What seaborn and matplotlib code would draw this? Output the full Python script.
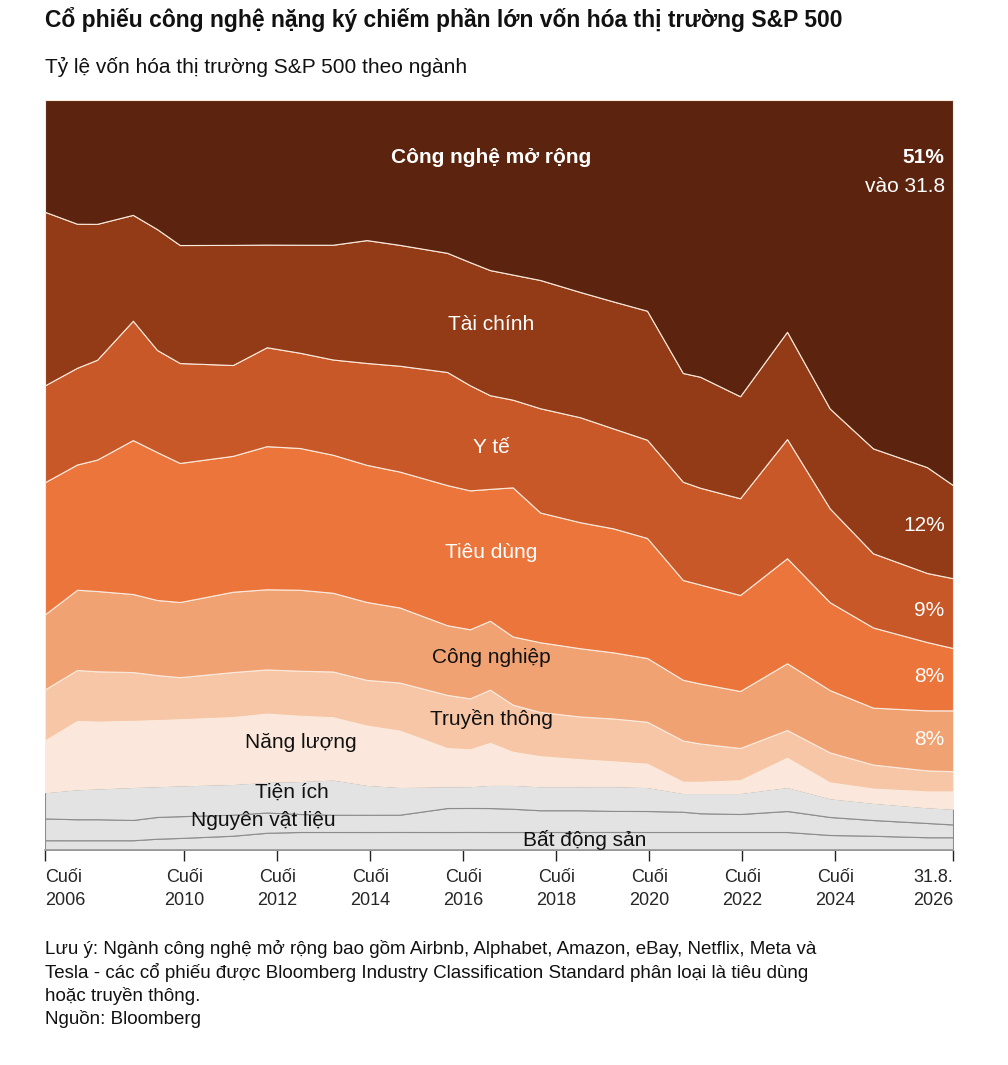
import numpy as np
import seaborn as sns
import matplotlib.pyplot as plt

# thoi gian (nam thap phan) va ty trong tung nganh (%) doc tu hinh
nam = [2007.0, 2007.69, 2008.12, 2008.89, 2009.41, 2009.90, 2011.04, 2011.77, 2012.48, 2013.19,
       2013.92, 2014.63, 2015.65, 2016.14, 2016.57, 2017.06, 2017.65, 2018.51, 2019.22, 2019.95,
       2020.72, 2021.09, 2021.95, 2022.96, 2023.88, 2024.81, 2025.97, 2026.53]

bat_dong_san = [1.3, 1.3, 1.3, 1.3, 1.5, 1.6, 1.9, 2.3, 2.4, 2.4, 2.4, 2.4, 2.4, 2.4,
                2.4, 2.4, 2.4, 2.4, 2.4, 2.4, 2.4, 2.4, 2.4, 2.4, 2.0, 1.9, 1.7, 1.7]
nguyen_vat_lieu = [2.9, 2.8, 2.8, 2.7, 2.9, 2.9, 2.8, 2.7, 2.4, 2.3, 2.3, 2.3, 3.2, 3.2,
                   3.2, 3.1, 2.9, 2.9, 2.8, 2.8, 2.7, 2.5, 2.4, 2.8, 2.4, 2.1, 1.9, 1.7]
tien_ich = [3.5, 4.0, 4.1, 4.4, 4.1, 4.1, 4.1, 4.1, 4.4, 4.7, 4.0, 3.7, 2.9, 2.9,
            3.1, 3.2, 3.2, 3.2, 3.3, 3.2, 2.5, 2.7, 2.8, 3.2, 2.5, 2.3, 2.1, 2.1]
nang_luong = [6.9, 9.1, 8.9, 8.8, 8.8, 8.8, 8.9, 9.1, 8.7, 8.3, 7.9, 7.5, 5.1, 4.9,
              5.6, 4.4, 4.0, 3.6, 3.3, 3.1, 1.5, 1.5, 1.7, 3.9, 2.1, 1.9, 2.1, 2.3]
truyen_thong = [6.8, 6.8, 6.7, 6.5, 6.0, 5.6, 6.0, 5.9, 6.0, 6.1, 6.1, 6.4, 7.1, 6.8,
                7.1, 6.3, 5.9, 5.7, 5.7, 5.6, 5.5, 5.1, 4.3, 3.7, 4.0, 3.2, 2.8, 2.7]
cong_nghiep = [10.0, 10.7, 10.7, 10.4, 10.0, 10.0, 10.7, 10.7, 10.8, 10.5, 10.4, 10.0, 9.3, 9.2,
               9.2, 9.1, 9.3, 9.1, 8.8, 8.5, 8.1, 8.0, 7.6, 8.9, 8.3, 7.6, 8.0, 8.1]
tieu_dung = [17.6, 16.7, 17.5, 20.5, 19.7, 18.5, 18.1, 19.1, 18.9, 18.4, 18.3, 18.1, 18.7, 18.5,
             17.6, 19.9, 17.3, 16.8, 16.5, 16.0, 13.3, 13.2, 12.8, 14.0, 11.7, 10.7, 9.1, 8.3]
y_te = [12.9, 12.9, 13.3, 15.9, 13.6, 13.3, 12.1, 13.2, 12.7, 12.7, 13.6, 14.1, 15.1, 14.0,
        12.5, 11.7, 13.9, 14.0, 13.3, 13.1, 13.1, 12.9, 12.9, 15.9, 12.5, 9.9, 9.2, 9.3]
tai_chinh = [23.1, 19.2, 18.1, 14.1, 16.1, 15.7, 16.0, 13.7, 14.4, 15.3, 16.4, 16.1, 15.9, 16.4,
             16.7, 16.7, 17.1, 16.7, 16.9, 17.2, 14.5, 14.8, 13.6, 14.3, 13.3, 14.0, 14.1, 12.4]
cong_nghe = [14.9, 16.5, 16.5, 15.3, 17.2, 19.3, 19.3, 19.3, 19.3, 19.3, 18.7, 19.3, 20.4, 21.6,
             22.7, 23.3, 24.0, 25.6, 26.8, 28.1, 36.4, 36.9, 39.5, 30.9, 41.1, 46.5, 48.9, 51.3]

tick_pos = [2007.0, 2010.0, 2012.0, 2014.0, 2016.0, 2018.0, 2020.0, 2022.0, 2024.0, 2026.53]
tick_lab = ['Cuối\n2006', 'Cuối\n2010', 'Cuối\n2012', 'Cuối\n2014', 'Cuối\n2016', 'Cuối\n2018',
            'Cuối\n2020', 'Cuối\n2022', 'Cuối\n2024', '31.8.\n2026']

sns.set_theme(style='white')
plt.rcParams['font.family'] = ['Liberation Sans', 'DejaVu Sans']

series = [bat_dong_san, nguyen_vat_lieu, tien_ich, nang_luong, truyen_thong,
          cong_nghiep, tieu_dung, y_te, tai_chinh, cong_nghe]
mau = ['#e3e3e3', '#e3e3e3', '#e3e3e3', '#fbe7db', '#f6c6a6', '#f0a273',
       '#eb753b', '#c95828', '#923b16', '#5c240e']
vien = ['#8c8c8c', '#8c8c8c', '#8c8c8c'] + ['#fbe9dc'] * 7

data = np.array(series, dtype=float)
data = data / data.sum(axis=0) * 100

fig = plt.figure(figsize=(10.08, 10.65), dpi=100)
ax = fig.add_axes([45 / 1008, 215 / 1065, 908 / 1008, 750 / 1065])
polys = ax.stackplot(nam, data, colors=mau)
for p, c in zip(polys, vien):
    p.set_edgecolor(c)
    p.set_linewidth(0.8)

ax.set_xlim(nam[0], nam[-1])
ax.set_ylim(0, 100)
ax.set_yticks([])
for s in ['left', 'right', 'top']:
    ax.spines[s].set_visible(False)
ax.spines['bottom'].set_color('#999999')
ax.set_xticks(tick_pos)
ax.set_xticklabels(tick_lab, fontsize=13, linespacing=1.4)
for i, t in enumerate(ax.get_xticklabels()):
    t.set_ha('left' if i == 0 else ('right' if i == len(tick_lab) - 1 else 'center'))
ax.tick_params(axis='x', direction='out', length=8, width=1, color='#222222', pad=6, bottom=True)

xc = 2016.6
ax.text(xc, 92.3, 'Công nghệ mở rộng', color='white', fontsize=15, fontweight='bold', ha='center', va='center')
ax.text(2026.35, 92.3, '51%', color='white', fontsize=15, fontweight='bold', ha='right', va='center')
ax.text(2026.35, 88.5, 'vào 31.8', color='white', fontsize=15, ha='right', va='center')
ax.text(xc, 70.1, 'Tài chính', color='white', fontsize=15, ha='center', va='center')
ax.text(xc, 53.7, 'Y tế', color='white', fontsize=15, ha='center', va='center')
ax.text(xc, 39.6, 'Tiêu dùng', color='white', fontsize=15, ha='center', va='center')
ax.text(xc, 25.7, 'Công nghiệp', color='#111111', fontsize=15, ha='center', va='center')
ax.text(xc, 17.5, 'Truyền thông', color='#111111', fontsize=15, ha='center', va='center')
ax.text(2012.5, 14.4, 'Năng lượng', color='#111111', fontsize=15, ha='center', va='center')
ax.text(2012.3, 7.7, 'Tiện ích', color='#111111', fontsize=15, ha='center', va='center')
ax.text(2011.7, 4.0, 'Nguyên vật liệu', color='#111111', fontsize=15, ha='center', va='center')
ax.text(2018.6, 1.3, 'Bất động sản', color='#111111', fontsize=15, ha='center', va='center')
for y, t in [(43.3, '12%'), (32.0, '9%'), (23.2, '8%'), (14.7, '8%')]:
    ax.text(2026.35, y, t, color='white', fontsize=15, ha='right', va='center')

fig.text(45 / 1008, 1 - 20 / 1065, 'Cổ phiếu công nghệ nặng ký chiếm phần lớn vốn hóa thị trường S&P 500',
         fontsize=16.5, fontweight='bold', ha='left', va='center', color='#111111')
fig.text(45 / 1008, 1 - 67 / 1065, 'Tỷ lệ vốn hóa thị trường S&P 500 theo ngành',
         fontsize=15, ha='left', va='center', color='#111111')
ghi_chu = ('Lưu ý: Ngành công nghệ mở rộng bao gồm Airbnb, Alphabet, Amazon, eBay, Netflix, Meta và\n'
           'Tesla - các cổ phiếu được Bloomberg Industry Classification Standard phân loại là tiêu dùng\n'
           'hoặc truyền thông.\n'
           'Nguồn: Bloomberg')
fig.text(45 / 1008, 1 - 940 / 1065, ghi_chu, fontsize=13.5, ha='left', va='top',
         color='#111111', linespacing=1.35)

fig.savefig('out.png', dpi=100)
